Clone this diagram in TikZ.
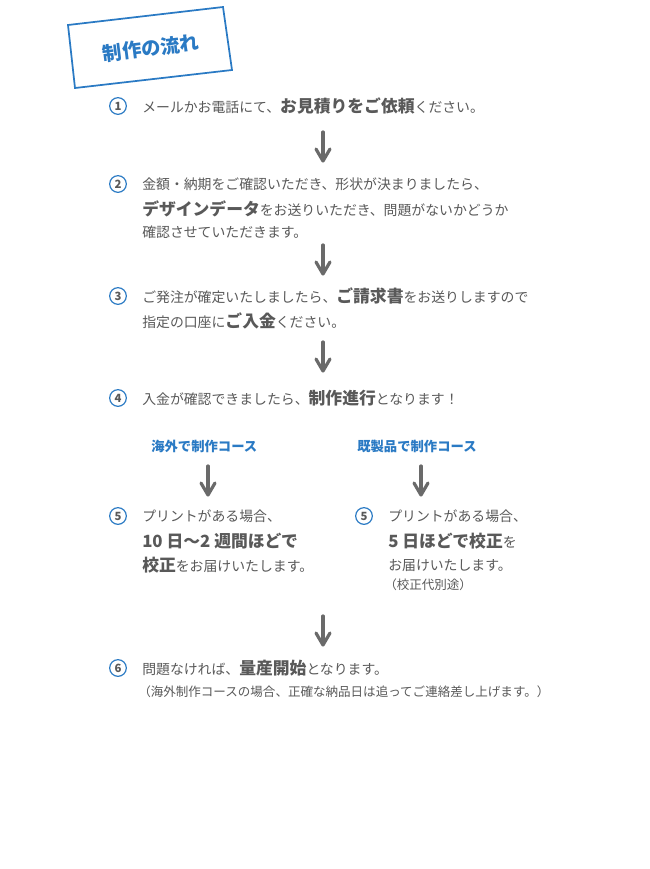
\documentclass[tikz,border=0pt]{standalone}
\usepackage{fontspec}
\setmainfont{Noto Sans CJK JP}
\usetikzlibrary{calc}
\begin{document}
\begin{tikzpicture}[x=0.75pt,y=-0.75pt,
  txt/.style={anchor=west,text=textgray,font=\fontsize{10.4}{12}\selectfont,inner sep=0pt},
  num/.style={circle,draw=numblue,line width=0.9pt,text=textgray,inner sep=0pt,minimum size=12.5pt,font=\fontsize{8.5}{8}\selectfont\bfseries},
  down/.style={draw=arrowgray,line width=2.4pt,line cap=round,line join=round},
  head/.style={anchor=west,text=numblue,font=\fontsize{10}{12}\selectfont\bfseries,inner sep=0pt}]
\definecolor{textgray}{HTML}{595959}
\definecolor{numblue}{HTML}{2A7AC4}
\definecolor{arrowgray}{HTML}{6A6A6A}
\newcommand{\bb}[1]{{\fontsize{12.6}{14}\selectfont\bfseries #1}}
\newcommand{\darrow}[3]{\coordinate (#1) at (#2,#3);
 \draw[down] (#1) -- ($(#1)+(0,28)$); \draw[down] ($(#1)+(-7,17)$) -- ($(#1)+(0,29)$) -- ($(#1)+(7,17)$);}
\useasboundingbox (0,0) rectangle (650,869);
\fill[white] (0,0) rectangle (650,869);
% title box
\draw[numblue,line width=1.3pt,fill=white] (68,25) -- (223,7) -- (232,70) -- (75,88) -- cycle;
\node[text=numblue,rotate=7,font=\fontsize{14.5}{16}\selectfont\bfseries] (title) at (151,48) {制作の流れ};
% step 1
\node[num] (n1) at (118,106) {1};
\node[txt] (t1) at (142,106) {メールかお電話にて、\bb{お見積りをご依頼}ください。};
\darrow{a1}{323}{132}
% step 2
\node[num] (n2) at (118,184) {2};
\node[txt] (t2a) at (142,184) {金額・納期をご確認いただき、形状が決まりましたら、};
\node[txt] (t2b) at (142,209) {\bb{デザインデータ}をお送りいただき、問題がないかどうか};
\node[txt] (t2c) at (142,232) {確認させていただきます。};
\darrow{a2}{323}{245}
% step 3
\node[num] (n3) at (118,296) {3};
\node[txt] (t3a) at (142,296) {ご発注が確定いたしましたら、\bb{ご請求書}をお送りしますので};
\node[txt] (t3b) at (142,321) {指定の口座に\bb{ご入金}ください。};
\darrow{a3}{323}{342}
% step 4
\node[num] (n4) at (118,398) {4};
\node[txt] (t4) at (142,398) {入金が確認できましたら、\bb{制作進行}となります！};
% courses
\node[head] (h1) at (151,446) {海外で制作コース};
\node[head] (h2) at (357,446) {既製品で制作コース};
\darrow{a4}{208}{466}
\darrow{a5}{421}{466}
% step 5 left
\node[num] (n5) at (118,516) {5};
\node[txt] (t5a) at (142,516) {プリントがある場合、};
\node[txt] (t5b) at (142,541) {\bb{10 日〜2 週間ほどで}};
\node[txt] (t5c) at (142,565) {\bb{校正}をお届けいたします。};
% step 5 right
\node[num] (n5r) at (364,516) {5};
\node[txt] (t5d) at (388,516) {プリントがある場合、};
\node[txt] (t5e) at (388,541) {\bb{5 日ほどで校正}を};
\node[txt] (t5f) at (388,565) {お届けいたします。};
\node[txt,font=\fontsize{9.4}{10}\selectfont] (t5g) at (384,585) {（校正代別途）};
\darrow{a6}{323}{616}
% step 6
\node[num] (n6) at (118,668) {6};
\node[txt] (t6a) at (142,668) {問題なければ、\bb{量産開始}となります。};
\node[txt,font=\fontsize{9.4}{10}\selectfont] (t6b) at (138,692) {（海外制作コースの場合、正確な納品日は追ってご連絡差し上げます。）};
\end{tikzpicture}
\end{document}
